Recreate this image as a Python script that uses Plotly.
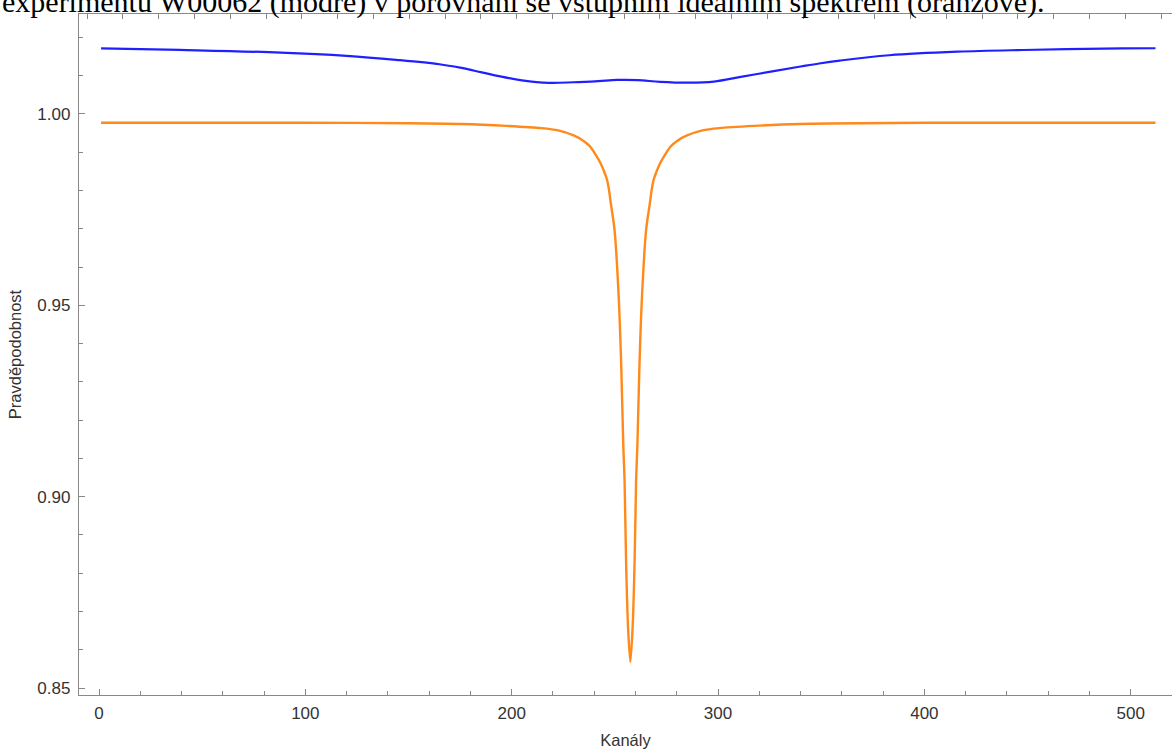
import plotly.graph_objects as go

# Blue: measured spectrum (experiment W00062)
blue_x = [1, 39, 88, 120, 144, 165, 175, 185, 195, 205, 218, 230, 242, 251, 261, 272, 286, 298, 311, 327, 340, 349, 359, 383, 416, 448, 496, 512]
blue_y = [1.01717, 1.01675, 1.01605, 1.01520, 1.01415, 1.01300, 1.01210, 1.01095, 1.00975, 1.00880, 1.00815, 1.00830, 1.00860, 1.00889, 1.00886, 1.00840, 1.00818, 1.00848, 1.00970, 1.01120, 1.01240, 1.01320, 1.01395, 1.01535, 1.01628, 1.01672, 1.01714, 1.01718]

# Orange: ideal input spectrum
orange_x = [1, 50, 100, 150, 175.5, 197.5, 214.5, 222.5, 230, 234.5, 238, 240.5, 243, 244.7, 246.2, 247.2, 248, 249.85, 251.85, 253.05, 254.1, 254.7, 255.45, 256.45,
            257.5, 258.55, 259.55, 260.3, 260.9, 261.95, 263.15, 265.15, 267, 267.8, 268.8, 270.3, 272, 274.5, 277, 280.5, 285, 292.5, 300.5, 317.5, 339.5, 400, 450, 512]
orange_y = [0.9977, 0.9977, 0.9977, 0.9976, 0.9974, 0.9969, 0.9963, 0.9957, 0.9944, 0.9931, 0.9915, 0.9895, 0.9872, 0.9851, 0.9828, 0.9800, 0.9768, 0.9697, 0.9523, 0.9349, 0.9131, 0.9044, 0.8826, 0.8652,
            0.8568, 0.8652, 0.8826, 0.9044, 0.9131, 0.9349, 0.9523, 0.9697, 0.9768, 0.9800, 0.9828, 0.9851, 0.9872, 0.9895, 0.9915, 0.9931, 0.9944, 0.9957, 0.9963, 0.9969, 0.9974, 0.9977, 0.9977, 0.9977]

x_ticks = [0, 100, 200, 300, 400, 500]
y_ticks = [0.85, 0.90, 0.95, 1.00]
y_tick_text = ["0.85", "0.90", "0.95", "1.00"]

caption = "experimentu W00062 (modré) v porovnání se vstupním ideálním spektrem (oranžově)."

fig = go.Figure()
fig.add_trace(go.Scatter(x=orange_x, y=orange_y, mode="lines",
                         line=dict(color="#ff8a1a", width=2.4, shape="spline", smoothing=0.8),
                         showlegend=False, hoverinfo="skip"))
fig.add_trace(go.Scatter(x=blue_x, y=blue_y, mode="lines",
                         line=dict(color="#2020ff", width=2.2, shape="spline", smoothing=1.0),
                         showlegend=False, hoverinfo="skip"))
# invisible helper trace so that the top frame axis is drawn
fig.add_trace(go.Scatter(x=[0], y=[0.9], xaxis="x2", mode="markers", marker=dict(opacity=0),
                         showlegend=False, hoverinfo="skip"))

axis_col = "#888888"
txt_col = "#333333"
sans = "Liberation Sans, Arial, sans-serif"
tick_font = dict(family=sans, size=17, color=txt_col)
top_ticks = [8 + 35.8 * k for k in range(31)]

fig.update_layout(
    width=1172, height=751,
    margin=dict(l=79, r=0, t=14, b=56),
    paper_bgcolor="white", plot_bgcolor="white",
    xaxis=dict(range=[-9.69, 520.0], tickvals=x_ticks, ticktext=[str(v) for v in x_ticks],
               ticks="inside", ticklen=6, tickwidth=1, tickcolor=axis_col,
               showline=True, linecolor=axis_col, linewidth=1.3,
               showgrid=False, zeroline=False, tickfont=tick_font, ticklabelstandoff=2,
               minor=dict(dtick=20, tick0=0, ticks="inside", ticklen=3.5, tickcolor=axis_col, showgrid=False),
               title=dict(text="Kanály", font=dict(family=sans, size=16.5, color=txt_col), standoff=12)),
    xaxis2=dict(overlaying="x", side="top", anchor="y", range=[0, 1093],
                tickvals=top_ticks, showticklabels=False, ticks="inside", ticklen=5, tickwidth=1.2,
                tickcolor=axis_col, showline=True, linecolor=axis_col, linewidth=1.3,
                showgrid=False, zeroline=False),
    yaxis=dict(range=[0.84817, 1.02613], tickvals=y_ticks, ticktext=y_tick_text,
               ticks="inside", ticklen=6, tickwidth=1, tickcolor=axis_col,
               showline=True, linecolor=axis_col, linewidth=1.3,
               showgrid=False, zeroline=False, tickfont=tick_font, ticklabelstandoff=4,
               minor=dict(dtick=0.01, tick0=0.85, ticks="inside", ticklen=3.5, tickcolor=axis_col, showgrid=False),
               title=dict(text="Pravděpodobnost", font=dict(family=sans, size=16.5, color=txt_col), standoff=11)),
    annotations=[dict(text=caption, xref="paper", yref="paper", x=0, xshift=-79, y=1, yshift=12,
                      xanchor="left", yanchor="middle", showarrow=False,
                      font=dict(family="Liberation Serif, Times New Roman, serif", size=30, color="black"))],
)

fig.write_html("out.html")
